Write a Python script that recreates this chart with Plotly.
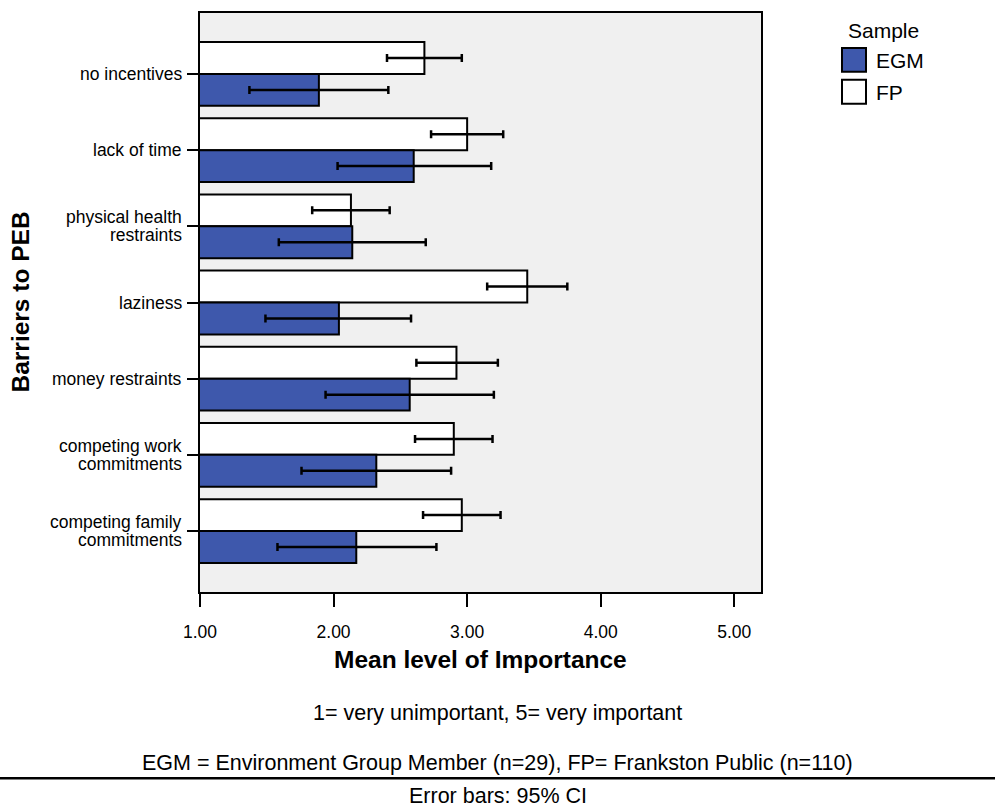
import plotly.graph_objects as go

# Barriers to pro-environmental behaviour (PEB): mean importance with 95% CI
barriers = [
    "no incentives",
    "lack of time",
    "physical health<br>restraints",
    "laziness",
    "money restraints",
    "competing work<br>commitments",
    "competing family<br>commitments",
]

fp_mean = [2.68, 3.00, 2.13, 3.45, 2.92, 2.90, 2.96]
fp_lo = [2.40, 2.73, 1.84, 3.15, 2.62, 2.61, 2.67]
fp_hi = [2.96, 3.27, 2.42, 3.75, 3.23, 3.19, 3.25]

egm_mean = [1.89, 2.60, 2.14, 2.04, 2.57, 2.32, 2.17]
egm_lo = [1.37, 2.03, 1.59, 1.49, 1.94, 1.76, 1.58]
egm_hi = [2.41, 3.18, 2.69, 2.58, 3.20, 2.88, 2.77]

x_ticks = [1, 2, 3, 4, 5]
x_tick_text = ["1.00", "2.00", "3.00", "4.00", "5.00"]

EGM_BLUE = "#3e58ac"
FONT = "Liberation Sans, Arial, Helvetica, sans-serif"

W, H = 995, 810
ML, MR, MT, MB = 200, 234, 11, 218
PW, PH = W - ML - MR, H - MT - MB


def px_x(X):
    """page pixel x -> paper x"""
    return (X - ML) / PW


def px_y(Y):
    """page pixel y -> paper y"""
    return (H - MB - Y) / PH


def err(mean, lo, hi):
    return dict(
        type="data",
        symmetric=False,
        array=[h - m for m, h in zip(mean, hi)],
        arrayminus=[m - l for m, l in zip(mean, lo)],
        color="black",
        thickness=2.5,
        width=4,
    )


fig = go.Figure()
fig.add_trace(go.Bar(
    name="FP", y=barriers, x=fp_mean, orientation="h",
    marker=dict(color="white", line=dict(color="black", width=2)),
    error_x=err(fp_mean, fp_lo, fp_hi),
))
fig.add_trace(go.Bar(
    name="EGM", y=barriers, x=egm_mean, orientation="h",
    marker=dict(color=EGM_BLUE, line=dict(color="black", width=2)),
    error_x=err(egm_mean, egm_lo, egm_hi),
))

# legend drawn as boxes + labels
shapes = [
    dict(type="rect", xref="paper", yref="paper",
         x0=px_x(842), x1=px_x(866), y0=px_y(70), y1=px_y(46),
         fillcolor=EGM_BLUE, line=dict(color="black", width=2)),
    dict(type="rect", xref="paper", yref="paper",
         x0=px_x(842), x1=px_x(866), y0=px_y(102), y1=px_y(78),
         fillcolor="white", line=dict(color="black", width=2)),
    dict(type="line", xref="paper", yref="paper",
         x0=px_x(0), x1=px_x(W), y0=px_y(779), y1=px_y(779),
         line=dict(color="black", width=2.5)),
]

ann = []


def note(text, X, Y, size, xanchor="center", bold=False, angle=0):
    ann.append(dict(
        text=f"<b>{text}</b>" if bold else text,
        xref="paper", yref="paper", x=px_x(X), y=px_y(Y),
        xanchor=xanchor, yanchor="middle", showarrow=False,
        textangle=angle, font=dict(family=FONT, size=size, color="black"),
    ))


note("Sample", 883, 29, 21)
note("EGM", 874, 59, 21, xanchor="left")
note("FP", 874, 91, 21, xanchor="left")
note("Mean level of Importance", ML + PW / 2, 660, 24.5, bold=True)
note("Barriers to PEB", 20, MT + PH / 2, 24.5, bold=True, angle=-90)
note("1= very unimportant, 5= very important", W / 2, 713, 21.5)
note("EGM = Environment Group Member (n=29), FP= Frankston Public (n=110)", W / 2, 764, 21.5)
note("Error bars: 95% CI", W / 2, 797, 21.5)

# category labels, one line per annotation for tight line spacing
LINE_STEP = 18
for cat in barriers:
    lines = cat.split("<br>")
    n = len(lines)
    for i, line in enumerate(lines):
        ann.append(dict(
            text=line, xref="paper", yref="y", x=px_x(184), y=cat,
            xanchor="right", yanchor="middle", showarrow=False,
            yshift=((n - 1) / 2 - i) * LINE_STEP,
            font=dict(family=FONT, size=17.5, color="black"),
        ))

fig.update_layout(
    width=W, height=H, autosize=False,
    margin=dict(l=ML, r=MR, t=MT, b=MB, pad=0),
    paper_bgcolor="white", plot_bgcolor="#f0f0f0",
    barmode="group", bargap=0.163, bargroupgap=0,
    showlegend=False,
    font=dict(family=FONT, color="black"),
    shapes=shapes, annotations=ann,
)
fig.update_xaxes(
    range=[1, 5.2], tickvals=x_ticks, ticktext=x_tick_text,
    showgrid=False, zeroline=False,
    showline=True, mirror=True, linecolor="black", linewidth=2,
    ticks="outside", ticklen=13, tickwidth=2, tickcolor="black",
    ticklabelstandoff=10,
    tickfont=dict(family=FONT, size=17.5, color="black"),
)
fig.update_yaxes(
    categoryorder="array", categoryarray=barriers,
    range=[6.8, -0.8], showgrid=False, zeroline=False,
    showline=True, mirror=True, linecolor="black", linewidth=2,
    ticks="outside", ticklen=11, tickwidth=2, tickcolor="black",
    showticklabels=False,
)

fig.write_html("out.html")
